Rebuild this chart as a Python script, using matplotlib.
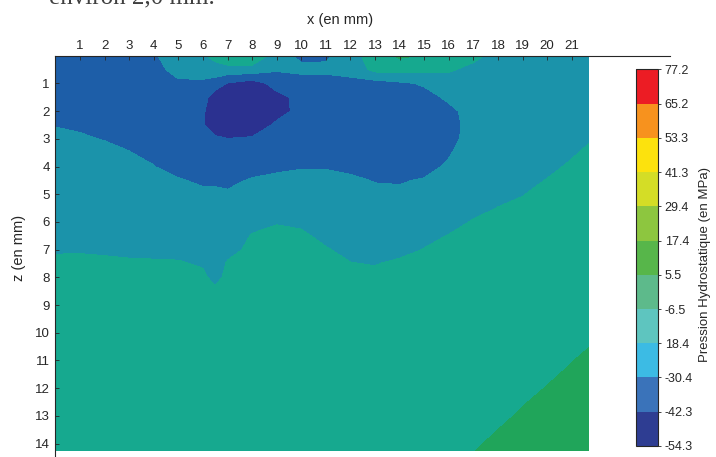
import numpy as np
import matplotlib
matplotlib.use('Agg')
import matplotlib.pyplot as plt
from matplotlib.colors import ListedColormap, BoundaryNorm
from matplotlib.cm import ScalarMappable

plt.rcParams['font.family'] = ['Liberation Sans', 'DejaVu Sans']

# positions of the grid (mm)
x_mm = [0, 1, 2, 3, 4, 5, 6, 6.5, 7, 8, 9, 10, 11, 12, 13, 14, 15, 16, 17, 18, 19, 20, 21, 21.7]
z_mm = [0, 0.5, 1, 1.5, 2, 2.5, 3, 3.5, 4, 4.5, 5, 5.5, 6, 6.5, 7, 7.5, 8, 8.5, 9, 10, 11, 12, 13, 14.25]

# hydrostatic pressure (MPa), one profile per x position, from z = 0 downwards
pression = [
    [-35.2, -34.2, -33.4, -32.4, -31.6, -30.6, -29.3, -28.0, -26.7, -25.3, -23.9, -22.6, -21.3, -19.9, -18.6, -18.0, -17.5, -17.0, -16.5, -15.5, -14.5, -13.6, -13.1, -12.5],
    [-35.2, -34.3, -33.5, -32.7, -31.8, -31.0, -29.9, -28.5, -27.1, -25.6, -24.2, -22.9, -21.4, -20.0, -18.6, -17.9, -17.3, -16.7, -16.1, -14.9, -14.3, -13.7, -13.1, -12.5],
    [-35.2, -34.5, -33.6, -32.9, -32.1, -31.4, -30.6, -29.2, -27.8, -26.2, -24.8, -23.2, -21.8, -20.2, -18.8, -17.9, -17.3, -16.7, -16.1, -14.9, -14.3, -13.7, -13.1, -12.5],
    [-35.2, -34.5, -33.9, -33.1, -32.4, -31.7, -31.1, -30.3, -28.8, -27.2, -25.6, -24.0, -22.4, -20.7, -19.2, -17.9, -17.3, -16.7, -16.1, -14.9, -14.3, -13.7, -13.1, -12.5],
    [-31.4, -32.8, -34.0, -34.5, -34.0, -33.1, -32.2, -31.2, -30.3, -28.5, -26.7, -24.9, -23.1, -21.3, -19.5, -17.9, -17.3, -16.7, -16.1, -14.9, -14.3, -13.7, -13.1, -12.5],
    [-25.6, -28.0, -31.6, -34.6, -36.4, -37.6, -37.0, -35.2, -32.5, -29.9, -28.0, -26.0, -24.1, -22.0, -20.0, -17.9, -17.3, -16.7, -16.1, -14.9, -14.3, -13.7, -13.1, -12.5],
    [-20.2, -26.2, -32.2, -37.0, -40.6, -41.4, -40.0, -37.0, -34.0, -31.4, -29.2, -27.2, -25.1, -23.1, -21.1, -19.0, -17.3, -16.7, -16.1, -14.9, -14.3, -13.7, -13.1, -12.5],
    [-13.7, -24.4, -35.1, -49.6, -50.7, -48.3, -40.6, -37.0, -33.7, -31.4, -29.2, -27.8, -26.5, -25.1, -23.8, -22.4, -20.2, -17.3, -16.1, -14.9, -14.3, -13.7, -13.1, -12.5],
    [-8.3, -23.2, -43.0, -48.3, -50.7, -48.9, -42.1, -38.2, -35.2, -32.2, -29.4, -27.4, -25.4, -23.2, -20.8, -17.7, -17.0, -16.5, -16.1, -14.9, -14.3, -13.7, -13.1, -12.5],
    [-8.3, -23.2, -48.3, -50.7, -51.3, -48.3, -41.2, -37.0, -33.4, -29.7, -26.8, -23.8, -20.8, -17.9, -16.7, -16.1, -15.8, -15.6, -15.5, -14.9, -14.3, -13.7, -13.1, -12.5],
    [-24.4, -29.2, -37.6, -45.9, -45.9, -40.6, -37.6, -35.2, -31.6, -29.0, -25.6, -22.3, -19.0, -16.1, -14.9, -14.6, -14.9, -14.9, -14.9, -14.9, -14.3, -13.7, -13.1, -12.5],
    [-33.4, -27.4, -36.4, -38.8, -39.4, -38.2, -36.4, -34.0, -31.0, -28.0, -25.0, -22.0, -19.6, -17.3, -15.5, -14.9, -14.6, -14.5, -14.5, -14.9, -14.3, -13.7, -13.1, -12.5],
    [-32.8, -27.4, -36.4, -38.2, -38.8, -38.2, -36.4, -34.0, -30.9, -28.6, -26.6, -24.4, -22.3, -20.1, -17.9, -16.1, -15.1, -14.9, -14.6, -14.9, -14.3, -13.7, -13.1, -12.5],
    [-23.2, -26.8, -33.4, -37.0, -38.2, -37.6, -36.4, -34.6, -32.2, -29.0, -26.8, -25.0, -23.2, -21.8, -20.2, -18.2, -16.7, -15.8, -15.3, -14.9, -14.3, -13.7, -13.1, -12.5],
    [-12.5, -14.9, -35.2, -37.6, -38.2, -37.8, -37.0, -35.4, -33.4, -30.8, -28.6, -26.8, -25.0, -23.2, -21.1, -18.7, -17.0, -16.1, -15.5, -14.9, -14.3, -13.7, -13.1, -12.5],
    [-4.7, -14.3, -32.2, -35.8, -37.6, -37.8, -37.3, -36.1, -34.2, -31.0, -29.0, -26.8, -24.7, -22.6, -20.2, -17.3, -16.1, -15.5, -15.1, -14.9, -14.3, -13.7, -13.1, -12.5],
    [-7.1, -14.9, -29.2, -34.0, -35.8, -36.4, -36.1, -35.2, -33.0, -29.8, -27.0, -24.4, -22.0, -19.9, -18.2, -16.7, -15.8, -15.3, -15.1, -14.9, -14.3, -13.7, -13.1, -12.5],
    [-11.3, -17.3, -23.2, -28.6, -32.8, -34.0, -33.7, -31.2, -29.2, -26.6, -24.4, -22.3, -20.2, -18.2, -16.7, -15.8, -15.5, -15.1, -14.9, -14.5, -14.1, -13.7, -12.5, -10.1],
    [-16.1, -20.8, -23.8, -25.6, -26.6, -26.8, -26.2, -25.4, -24.2, -23.0, -21.4, -19.9, -18.0, -16.7, -15.8, -15.2, -14.9, -14.6, -14.4, -13.7, -12.5, -11.3, -9.5, -6.7],
    [-21.4, -22.6, -23.5, -24.2, -24.4, -24.2, -23.7, -23.0, -22.0, -20.8, -19.6, -18.3, -17.3, -16.3, -15.5, -14.9, -14.3, -13.7, -13.1, -11.9, -10.7, -9.1, -7.7, -4.7],
    [-21.1, -22.0, -22.7, -23.2, -23.5, -23.2, -22.7, -22.0, -21.1, -19.9, -18.6, -17.3, -16.3, -15.5, -14.9, -14.3, -13.7, -13.1, -12.5, -11.0, -9.5, -7.9, -5.8, -2.9],
    [-20.8, -21.4, -22.0, -22.4, -22.5, -22.3, -21.8, -20.8, -19.6, -18.2, -17.0, -16.1, -15.3, -14.7, -14.1, -13.7, -13.1, -12.5, -11.9, -10.3, -8.3, -6.3, -4.1, -1.7],
    [-20.6, -20.8, -21.2, -21.4, -21.4, -21.2, -20.2, -19.0, -17.7, -16.7, -15.8, -15.1, -14.5, -13.9, -13.4, -13.0, -12.5, -11.9, -11.3, -9.1, -6.7, -4.7, -2.7, -0.5],
    [-20.4, -20.6, -20.8, -20.8, -20.6, -20.0, -18.9, -17.5, -16.3, -15.5, -14.9, -14.3, -13.7, -13.2, -12.7, -12.2, -11.8, -11.3, -10.7, -7.9, -5.3, -3.2, -1.1, 0.9],
]

levels = [-54.3, -42.3, -30.4, -18.4, -6.5, 5.5, 17.4, 29.4, 41.3, 53.3, 65.2, 77.2]
level_labels = ['-54.3', '-42.3', '-30.4', '18.4', '-6.5', '5.5', '17.4', '29.4',
                '41.3', '53.3', '65.2', '77.2']

fill_colors = ['#2b3190', '#1d5ea8', '#1b93aa', '#16a98f', '#20a55a', '#56b54a',
               '#8dc63f', '#d4dd26', '#fce20d', '#f7921e', '#ec1c24']
bar_colors = ['#2e3d92', '#3a73ba', '#3cbbe4', '#5ec5bf', '#5dba8b', '#57b64a',
              '#8dc63f', '#d4dd26', '#fce20d', '#f7921e', '#ec1c24']

txt = '#262626'

fig = plt.figure(figsize=(7.16, 4.57), dpi=100)
ax = fig.add_axes([0.0774, -0.0311, 0.8584, 0.9092])

Z = np.array(pression).T
ax.contourf(x_mm, z_mm, Z, levels=levels, colors=fill_colors)

ax.set_xlim(0, 25)
ax.set_ylim(15, 0)
ax.xaxis.tick_top()
ax.set_xticks(range(1, 22))
ax.set_yticks(range(1, 15))
ax.tick_params(direction='in', length=3, width=0.6, colors=txt, labelsize=9.5)
ax.tick_params(axis='x', pad=3)
ax.tick_params(axis='y', pad=4)
for s in ['bottom', 'right']:
    ax.spines[s].set_visible(False)
for s in ['top', 'left']:
    ax.spines[s].set_color(txt)
    ax.spines[s].set_linewidth(0.8)

fig.text(340 / 716, 1 - 20 / 457, 'x (en mm)', ha='center', va='center',
         fontsize=10.5, color=txt)
fig.text(19 / 716, 1 - 248 / 457, 'z (en mm)', ha='center', va='center',
         rotation=90, fontsize=10.5, color=txt)

# colour bar
cax = fig.add_axes([0.8879, 0.0241, 0.0316, 0.8243])
sm = ScalarMappable(norm=BoundaryNorm(levels, len(bar_colors)), cmap=ListedColormap(bar_colors))
cb = fig.colorbar(sm, cax=cax, ticks=levels)
cb.ax.set_yticklabels(level_labels)
cb.ax.tick_params(direction='out', length=2.5, width=0.6, colors=txt, labelsize=9, pad=2)
cb.outline.set_edgecolor(txt)
cb.outline.set_linewidth(0.8)
fig.text(705 / 716, 1 - 265 / 457, 'Pression Hydrostatique (en MPa)', ha='center',
         va='center', rotation=90, fontsize=9.5, color=txt)

# heading of the page above, cut by the top edge as in the scan
fig.text(215 / 716, 1 - 3 / 457, 'environ 2,0 mm.', ha='right', va='baseline',
         family='Liberation Serif', fontsize=18, color='#404040')

fig.savefig('out.png', dpi=100)
